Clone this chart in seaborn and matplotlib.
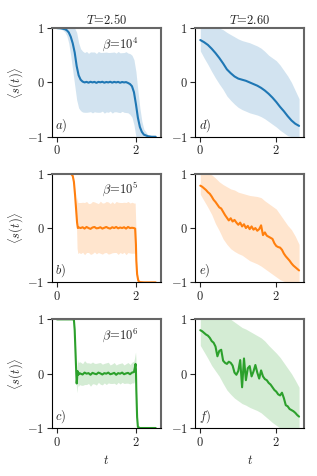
import numpy as np
import matplotlib
matplotlib.use("Agg")
import matplotlib.pyplot as plt
import seaborn as sns
from matplotlib.ticker import FuncFormatter

# ---------------- data ----------------
titles = ["2.50", "2.60"]
betas = ["4", "5", "6"]
panel_labels = [["a", "d"], ["b", "e"], ["c", "f"]]

# left column (T = 2.50): mean and spread
t_a = [0, 0.1, 0.2, 0.25, 0.3, 0.35, 0.4, 0.45, 0.5, 0.55, 0.6, 0.65,
       0.7, 0.75, 0.8, 0.85, 0.9, 0.95, 1.0, 1.05, 1.1, 1.15, 1.2, 1.25,
       1.3, 1.35, 1.4, 1.45, 1.5, 1.55, 1.6, 1.65, 1.7, 1.75, 1.8,
       1.85, 1.9, 1.95, 2.0, 2.05, 2.1, 2.15, 2.2, 2.3, 2.4, 2.5]
m_a = [1.0, 0.995, 0.98, 0.96, 0.92, 0.84, 0.72, 0.55, 0.3, 0.13, 0.05, 0.015,
       0.0, 0.01, -0.005, 0.012, 0.0, 0.01, -0.008, 0.01, 0.002, 0.012, -0.005, 0.008,
       0.0, 0.012, -0.004, 0.01, 0.0, 0.01, -0.006, 0.008, 0.0, 0.006, -0.01,
       -0.03, -0.07, -0.18, -0.4, -0.65, -0.82, -0.91, -0.96, -0.99, -1.0, -1.0]
sd_a = [0.0, 0.01, 0.05, 0.1, 0.2, 0.35, 0.5, 0.6, 0.62, 0.6, 0.57, 0.56,
        0.55, 0.56, 0.54, 0.55, 0.56, 0.55, 0.54, 0.56, 0.55, 0.54, 0.56, 0.55,
        0.55, 0.54, 0.56, 0.55, 0.54, 0.56, 0.55, 0.54, 0.55, 0.56, 0.55,
        0.56, 0.57, 0.6, 0.6, 0.5, 0.35, 0.2, 0.1, 0.03, 0.01, 0.0]

t_b = [0, 0.1, 0.2, 0.3, 0.36, 0.4, 0.43, 0.46, 0.49, 0.51, 0.53, 0.56,
       0.6, 0.65, 0.7, 0.75, 0.8, 0.85, 0.9, 0.95, 1.0, 1.05, 1.1, 1.15, 1.2, 1.25,
       1.3, 1.35, 1.4, 1.45, 1.5, 1.55, 1.6, 1.65, 1.7, 1.75, 1.8, 1.85, 1.9, 1.95,
       1.98, 2.0, 2.01, 2.03, 2.06, 2.1, 2.2, 2.35, 2.5]
m_b = [1.0, 1.0, 1.0, 1.0, 0.995, 0.96, 0.85, 0.6, 0.3, 0.1, 0.0, 0.01,
       0.0, 0.015, -0.01, 0.02, 0.0, -0.015, 0.01, 0.02, -0.005, 0.0, 0.015, -0.01, 0.005, 0.02,
       0.0, -0.01, 0.015, 0.0, 0.02, -0.005, 0.01, 0.0, 0.015, -0.01, 0.02, 0.0, 0.005, 0.0,
       -0.01, -0.3, -0.6, -0.85, -0.97, -0.995, -1.0, -1.0, -1.0]
sd_b = [0, 0, 0, 0, 0, 0, 0.02, 0.05, 0.1, 0.47, 0.47, 0.46,
        0.47, 0.46, 0.48, 0.47, 0.45, 0.47, 0.48, 0.46, 0.47, 0.45, 0.48, 0.47, 0.46, 0.47,
        0.48, 0.46, 0.47, 0.45, 0.47, 0.48, 0.46, 0.47, 0.46, 0.48, 0.47, 0.46, 0.47, 0.46,
        0.47, 0.3, 0.1, 0.05, 0.02, 0, 0, 0, 0]

t_c = [0, 0.1, 0.2, 0.3, 0.4, 0.43, 0.45, 0.47, 0.49, 0.5, 0.51, 0.52, 0.54, 0.57,
       0.6, 0.65, 0.7, 0.75, 0.8, 0.85, 0.9, 0.95, 1.0, 1.05, 1.1, 1.15, 1.2, 1.25,
       1.3, 1.35, 1.4, 1.45, 1.5, 1.55, 1.6, 1.65, 1.7, 1.75, 1.8, 1.85, 1.9, 1.95,
       1.97, 1.99, 2.0, 2.01, 2.03, 2.05, 2.1, 2.3, 2.5]
m_c = [1, 1, 1, 1, 1, 0.99, 0.8, 0.4, 0.0, -0.18, -0.1, 0.05, -0.02, 0.01,
       0.0, -0.015, 0.02, 0.0, 0.01, -0.02, 0.015, 0.0, -0.01, 0.02, 0.005, -0.015, 0.01, 0.0,
       0.02, -0.01, 0.0, 0.015, -0.02, 0.01, 0.0, 0.02, -0.01, 0.005, 0.015, -0.01, 0.02, 0.03,
       0.1, 0.18, 0.08, -0.3, -0.8, -0.98, -1, -1, -1]
sd_c = [0, 0, 0, 0, 0, 0.01, 0.05, 0.12, 0.18, 0.17, 0.2, 0.22, 0.22, 0.21,
        0.21, 0.2, 0.22, 0.2, 0.19, 0.21, 0.2, 0.19, 0.2, 0.18, 0.2, 0.19, 0.18, 0.2,
        0.19, 0.17, 0.18, 0.19, 0.18, 0.17, 0.19, 0.18, 0.17, 0.18, 0.19, 0.18, 0.19, 0.2,
        0.21, 0.22, 0.2, 0.12, 0.05, 0.01, 0, 0, 0]

# right column (T = 2.60): mean on a fine grid, band edges on a coarse grid
t_fine = np.linspace(0, 2.6, 53)
t_coarse = np.linspace(0, 2.6, 27)

m_d = [0.78, 0.74, 0.69, 0.62, 0.54, 0.45, 0.35, 0.24, 0.17, 0.11,
       0.07, 0.05, 0.03, 0.0, -0.03, -0.06, -0.1, -0.15, -0.21, -0.28,
       -0.36, -0.45, -0.53, -0.62, -0.7, -0.76, -0.8]
up_d = [1, 1, 1, 1, 1, 1, 0.97, 0.92, 0.88, 0.84,
        0.8, 0.77, 0.75, 0.73, 0.7, 0.67, 0.63, 0.57, 0.5, 0.45,
        0.4, 0.32, 0.22, 0.12, 0.0, -0.15, -0.3]
lo_d = [0.58, 0.45, 0.33, 0.2, 0.08, -0.03, -0.13, -0.25, -0.33, -0.4,
        -0.46, -0.5, -0.53, -0.56, -0.58, -0.6, -0.63, -0.67, -0.72, -0.77,
        -0.82, -0.88, -0.93, -0.98, -1, -1, -1]

m_e = [0.78, 0.76, 0.73, 0.70, 0.66, 0.63, 0.58, 0.52, 0.48, 0.43,
       0.38, 0.36, 0.30, 0.24, 0.19, 0.14, 0.18, 0.12, 0.15, 0.10,
       0.06, 0.10, 0.03, 0.07, 0.0, 0.04, -0.02, 0.03, -0.03, 0.0,
       -0.05, -0.02, 0.05, -0.13, -0.08, -0.14, -0.16, -0.18, -0.20, -0.28,
       -0.33, -0.35, -0.36, -0.40, -0.47, -0.52, -0.56, -0.60, -0.65, -0.69,
       -0.72, -0.75, -0.78]
up_e = [1, 1, 1, 0.98, 0.92, 0.85, 0.8, 0.76, 0.72, 0.7,
        0.66, 0.64, 0.62, 0.6, 0.59, 0.58, 0.56, 0.5, 0.45, 0.4,
        0.35, 0.25, 0.15, 0.05, -0.03, -0.15, -0.3]
lo_e = [0.62, 0.5, 0.38, 0.25, 0.08, -0.05, -0.2, -0.3, -0.38, -0.43,
        -0.47, -0.5, -0.55, -0.6, -0.63, -0.66, -0.7, -0.75, -0.8, -0.85,
        -0.9, -0.95, -0.98, -1, -1, -1, -1]

m_f = [0.80, 0.78, 0.75, 0.72, 0.70, 0.66, 0.60, 0.57, 0.50, 0.32,
       0.42, 0.44, 0.24, 0.20, 0.18, 0.22, 0.20, 0.15, 0.02, -0.02,
       0.05, 0.25, -0.25, 0.28, -0.12, 0.10, 0.14, -0.05, 0.04, 0.16,
       0.02, -0.09, 0.06, -0.05, -0.10, -0.12, -0.17, -0.20, -0.25, -0.30,
       -0.33, -0.38, -0.40, -0.35, -0.45, -0.58, -0.60, -0.65, -0.67, -0.69,
       -0.72, -0.76, -0.79]
up_f = [1, 1, 1, 1, 1, 1, 1, 1, 1, 0.95,
        0.9, 0.85, 0.82, 0.78, 0.74, 0.7, 0.66, 0.6, 0.52, 0.45,
        0.38, 0.3, 0.2, 0.1, 0.0, -0.12, -0.25]
lo_f = [0.52, 0.4, 0.28, 0.15, 0.05, -0.05, -0.18, -0.3, -0.38, -0.45,
        -0.5, -0.55, -0.58, -0.62, -0.65, -0.68, -0.72, -0.78, -0.84, -0.9,
        -0.95, -1, -1, -1, -1, -1, -1]

# ---------------- style ----------------
sns.set_theme(style="ticks")
plt.rcParams["font.family"] = ["DejaVu Serif"]
plt.rcParams["mathtext.fontset"] = "cm"

colors = sns.color_palette("tab10")[:3]

fig, axes = plt.subplots(3, 2, figsize=(3.17, 4.76), dpi=100)
fig.subplots_adjust(left=0.164, right=0.959, top=0.941, bottom=0.1008,
                    wspace=0.32, hspace=0.34)

left_data = [(t_a, m_a, sd_a), (t_b, m_b, sd_b), (t_c, m_c, sd_c)]
right_data = [(m_d, up_d, lo_d), (m_e, up_e, lo_e), (m_f, up_f, lo_f)]
right_t = [t_coarse, t_fine, t_fine]

fmt = FuncFormatter(lambda v, p: f"${v:g}$")

for r in range(3):
    c = colors[r]
    # left
    ax = axes[r, 0]
    t, m, sd = (np.asarray(x, float) for x in left_data[r])
    ax.fill_between(t, np.clip(m - sd, -1, 1), np.clip(m + sd, -1, 1),
                    color=c, alpha=0.2, lw=0)
    sns.lineplot(x=t, y=m, ax=ax, color=c, lw=1.5)
    ax.text(0.63, 0.85, rf"$\beta\!=\!10^{betas[r]}$", transform=ax.transAxes,
            ha="center", va="center", fontsize=9)
    # right
    ax2 = axes[r, 1]
    m2, up2, lo2 = right_data[r]
    ax2.fill_between(t_coarse, lo2, up2, color=c, alpha=0.2, lw=0)
    sns.lineplot(x=right_t[r], y=m2, ax=ax2, color=c, lw=1.5)

    for j, a in enumerate((ax, ax2)):
        a.set_ylim(-1, 1)
        a.set_xticks([0, 2])
        a.set_yticks([-1, 0, 1])
        a.xaxis.set_major_formatter(fmt)
        a.yaxis.set_major_formatter(fmt)
        a.tick_params(direction="out", length=3.5, width=0.8, labelsize=9,
                      top=False, right=False, pad=2)
        for s in ("left", "bottom"):
            a.spines[s].set_color("black")
            a.spines[s].set_linewidth(0.8)
        for s in ("top", "right"):
            a.spines[s].set_visible(True)
            a.spines[s].set_color("0.4")
            a.spines[s].set_linewidth(1.5)
        a.text(0.03, 0.03, rf"${panel_labels[r][j]})$", transform=a.transAxes,
               ha="left", va="bottom", fontsize=9)
        a.set_xlabel("")
        a.set_ylabel("")
    ax.set_ylabel(r"$\langle s(t)\rangle$", fontsize=9, labelpad=1)

axes[0, 0].set_title(r"$T\!=\!2.50$", fontsize=9, pad=3)
axes[0, 1].set_title(r"$T\!=\!2.60$", fontsize=9, pad=3)
axes[2, 0].set_xlabel(r"$t$", fontsize=9)
axes[2, 1].set_xlabel(r"$t$", fontsize=9)

fig.savefig("out.png", dpi=100)
